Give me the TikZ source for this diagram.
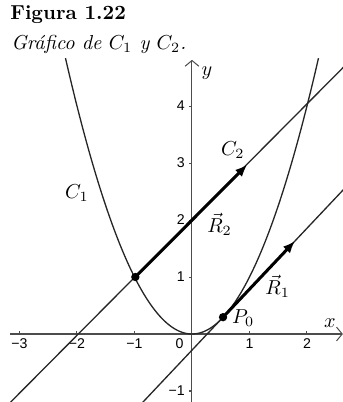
\documentclass[tikz,border=0pt]{standalone}
\usepackage{fontspec}
\newfontfamily\ticksf{Liberation Sans}
\usetikzlibrary{arrows.meta}
\begin{document}
\begin{tikzpicture}[x=1cm,y=0.9913cm,
  axisline/.style={draw=black!70, line width=0.5pt},
  curve/.style={draw=black!85, line width=0.65pt},
  vec/.style={draw=black, line width=1.5pt, -{Latex[length=2.1mm,width=1.7mm]}},
  dot/.style={circle, fill=black, inner sep=0pt, minimum size=1.45mm},
  ticklab/.style={font=\ticksf\fontsize{7}{8}\selectfont, inner sep=1pt},
  lab/.style={inner sep=0pt},
  axarrow/.style={-{Straight Barb[length=1mm,width=2.4mm]}}]
\useasboundingbox (-3.339,-1.193) rectangle (2.626,5.86);
\begin{scope}
\clip (-3.339,-1.193) rectangle (2.626,5.86);
% axes
\coordinate (xs) at (-3.165,0);
\coordinate (xe) at (2.625,0);
\coordinate (ys) at (0,-1.25);
\coordinate (ye) at (0,4.81);
\draw[axisline, axarrow] (xs) -- (xe);
\draw[axisline, axarrow] (ys) -- (ye);
\foreach \v in {-3,-2,-1,1,2} \draw[axisline] (\v,0) -- (\v,0.05);
\foreach \v in {-1,1,2,3,4} \draw[axisline] (0,\v) -- (-0.05,\v);
% tick labels
\foreach \v/\t in {-3/−3,-2/−2,-1/−1,1/1,2/2}
  \node[ticklab, anchor=north] (tx\v) at (\v,-0.04) {\t};
\node[ticklab, anchor=north east] (t0) at (-0.105,-0.04) {0};
\foreach \v/\t in {-1/−1,1/1,2/2,3/3,4/4}
  \node[ticklab, anchor=east] (ty\v) at (-0.085,\v) {\t};
% curves
\draw[curve] plot[domain=-2.2:2.2, samples=120] (\x,{\x*\x});
\coordinate (c2a) at (-3.45,-1.495);
\coordinate (c2b) at (2.75,4.798);
\draw[curve] (c2a) -- (c2b);
\coordinate (ta) at (-0.9,-1.245);
\coordinate (tb) at (2.75,2.657);
\draw[curve] (ta) -- (tb);
% vectors
\coordinate (A) at (-0.985,1.0);
\coordinate (B) at (0.96,2.97);
\coordinate (P) at (0.54,0.295);
\coordinate (Q) at (1.79,1.63);
\draw[vec] (A) -- (B);
\draw[vec] (P) -- (Q);
\node[dot] (dA) at (A) {};
\node[dot] (dP) at (P) {};
% labels
\node[lab] (lc1) at (-2.0,2.47) {$C_1$};
\node[lab] (lc2) at (0.71,3.23) {$C_2$};
\node[lab] (lr2) at (0.48,1.93) {$\vec{R}_2$};
\node[lab] (lr1) at (1.49,0.83) {$\vec{R}_1$};
\node[lab] (lp0) at (0.89,0.28) {$P_0$};
\node[lab] (lx) at (2.4,0.19) {$x$};
\node[lab] (ly) at (0.26,4.58) {$y$};
\end{scope}
% title
\node[lab, anchor=base west] (tit) at (-3.165,5.518) {\textbf{Figura 1.22}};
\node[lab, anchor=base west] (sub) at (-3.15,5.0) {\textit{Gráfico de $C_1$ y $C_2$.}};
\end{tikzpicture}
\end{document}
